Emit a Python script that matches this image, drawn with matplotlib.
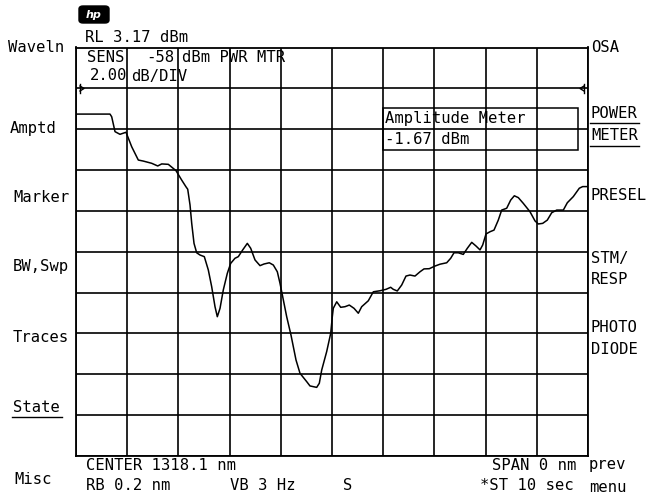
import matplotlib
matplotlib.use("Agg")
import matplotlib.pyplot as plt
from matplotlib.patches import FancyBboxPatch, Rectangle
from matplotlib.lines import Line2D

# ---- data ----
ref_level = 3.17          # dBm, top of screen
db_per_div = 2.0
n_div = 10
sweep_time = 10.0         # sec (zero span)

time_s = [0.0, 0.664, 0.697, 0.762, 0.859, 0.977, 1.088, 1.217, 1.314, 1.479, 1.596, 1.674,
          1.803, 1.953, 2.064, 2.148, 2.182, 2.227, 2.260, 2.305, 2.357, 2.422, 2.506, 2.584,
          2.650, 2.715, 2.760, 2.813, 2.877, 2.955, 3.021, 3.105, 3.170, 3.256, 3.346, 3.412,
          3.496, 3.594, 3.672, 3.775, 3.854, 3.932, 3.984, 4.037, 4.115, 4.199, 4.297, 4.375,
          4.506, 4.570, 4.701, 4.752, 4.799, 4.896, 4.975, 5.006, 5.025, 5.092, 5.170, 5.254,
          5.338, 5.430, 5.514, 5.580, 5.709, 5.807, 5.938, 6.055, 6.146, 6.197, 6.275, 6.361,
          6.445, 6.523, 6.621, 6.719, 6.797, 6.900, 7.012, 7.109, 7.240, 7.318, 7.383, 7.467,
          7.564, 7.643, 7.729, 7.813, 7.891, 7.943, 8.008, 8.086, 8.164, 8.248, 8.314, 8.412,
          8.490, 8.561, 8.639, 8.736, 8.867, 8.965, 9.029, 9.115, 9.205, 9.291, 9.389, 9.518,
          9.596, 9.713, 9.830, 9.896, 10.0]
power_dbm = [-0.09, -0.09, -0.22, -0.95, -1.08, -0.98, -1.69, -2.34, -2.39, -2.50, -2.63, -2.53,
             -2.55, -2.86, -3.32, -3.65, -3.77, -4.54, -5.44, -6.42, -6.88, -6.99, -7.07, -7.72,
             -8.54, -9.52, -10.01, -9.60, -8.70, -7.89, -7.40, -7.15, -7.07, -6.74, -6.42, -6.66,
             -7.23, -7.51, -7.43, -7.37, -7.48, -7.81, -8.37, -9.03, -10.01, -10.91, -12.13, -12.78,
             -13.19, -13.40, -13.47, -13.27, -12.62, -11.72, -10.82, -10.01, -9.60, -9.28, -9.55, -9.52,
             -9.44, -9.60, -9.84, -9.52, -9.23, -8.79, -8.74, -8.67, -8.57, -8.67, -8.75, -8.46,
             -8.02, -7.97, -8.02, -7.81, -7.67, -7.66, -7.53, -7.44, -7.37, -7.15, -6.88, -6.88,
             -6.96, -6.66, -6.37, -6.55, -6.74, -6.50, -5.96, -5.85, -5.77, -5.28, -4.79, -4.70,
             -4.30, -4.09, -4.18, -4.46, -4.87, -5.32, -5.47, -5.44, -5.28, -4.92, -4.79, -4.79,
             -4.43, -4.13, -3.72, -3.64, -3.64]

left_softkeys = ["Waveln", "Amptd", "Marker", "BW,Swp", "Traces", "State", "Misc"]

# ---- figure ----
W, H = 651, 499
fig = plt.figure(figsize=(W / 100, H / 100), dpi=100)
fig.patch.set_facecolor("white")

def fx(px):
    return px / W

def fy(py):
    return 1 - py / H

L, R, T, B = 76, 588, 47.5, 456
ax = fig.add_axes([fx(L), fy(B), fx(R) - fx(L), fy(T) - fy(B)])
bottom = ref_level - n_div * db_per_div
ax.set_xlim(0, sweep_time)
ax.set_ylim(bottom, ref_level)
ax.set_xticks([sweep_time * i / n_div for i in range(n_div + 1)])
ax.set_yticks([bottom + db_per_div * i for i in range(n_div + 1)])
ax.tick_params(length=0, labelbottom=False, labelleft=False)
ax.grid(True, color="black", lw=1.2)
for s in ax.spines.values():
    s.set_linewidth(1.3)
ax.plot(time_s, power_dbm, color="black", lw=1.1, zorder=3)

mono = "DejaVu Sans Mono"
FS = 11.2

def t(px, py, s, ha="left", size=FS, **kw):
    fig.text(fx(px), fy(py), s, ha=ha, va="center", fontsize=size, family=mono, **kw)

# header
t(85, 38, "RL 3.17 dBm")
t(87, 57, "SENS")
t(146, 57, "-58")
t(182, 57, "dBm PWR MTR")
t(90, 76, "2.00")
t(131, 76, "dB/DIV")

# HP logo
logo = FancyBboxPatch((fx(79), fy(23)), fx(30), 17 / H,
                      boxstyle="round,pad=0,rounding_size=0.006",
                      transform=fig.transFigure, facecolor="black", edgecolor="black")
fig.patches.append(logo)
fig.text(fx(94), fy(14.5), "hp", ha="center", va="center", color="white",
         fontsize=8, fontweight="bold", style="italic", family="DejaVu Sans")

# reference markers
fig.lines.append(Line2D([fx(80), fx(80)], [fy(84), fy(93)], transform=fig.transFigure, color="black", lw=1))
fig.lines.append(Line2D([fx(80), fx(84), fx(80)], [fy(86), fy(88.5), fy(91)], transform=fig.transFigure, color="black", lw=1))
fig.lines.append(Line2D([fx(584), fx(584)], [fy(84), fy(93)], transform=fig.transFigure, color="black", lw=1))
fig.lines.append(Line2D([fx(584), fx(580), fx(584)], [fy(86), fy(88.5), fy(91)], transform=fig.transFigure, color="black", lw=1))

# amplitude meter box
box = Rectangle((fx(383), fy(150)), fx(577.7) - fx(383), (150 - 108.3) / H,
                transform=fig.transFigure, fill=False, edgecolor="black", lw=1.1)
fig.patches.append(box)
t(385, 119, "Amplitude Meter")
t(385, 139, "-1.67 dBm")

# left softkeys
left_y = [47, 128, 197, 267, 337, 408, 479]
left_x = [8, 10, 13, 13, 13, 13, 14]
for s, x, y in zip(left_softkeys, left_x, left_y):
    t(x, y, s)
fig.lines.append(Line2D([fx(12), fx(62)], [fy(417), fy(417)], transform=fig.transFigure, color="black", lw=1))

# right softkeys
t(591, 47, "OSA")
t(591, 114, "POWER")
t(591, 136, "METER")
fig.lines.append(Line2D([fx(590), fx(639)], [fy(123), fy(123)], transform=fig.transFigure, color="black", lw=1))
fig.lines.append(Line2D([fx(590), fx(639)], [fy(146), fy(146)], transform=fig.transFigure, color="black", lw=1))
t(591, 196, "PRESEL")
t(591, 258, "STM/")
t(591, 279, "RESP")
t(591, 327, "PHOTO")
t(591, 350, "DIODE")
t(589, 465, "prev")
t(589, 487, "menu")

# bottom annotations
t(86, 465, "CENTER 1318.1 nm")
t(86, 486, "RB 0.2 nm")
t(230, 486, "VB 3 Hz")
t(343, 486, "S")
t(492, 465, "SPAN 0 nm")
t(480, 486, "*ST 10 sec")

fig.savefig("out.png", dpi=100)
